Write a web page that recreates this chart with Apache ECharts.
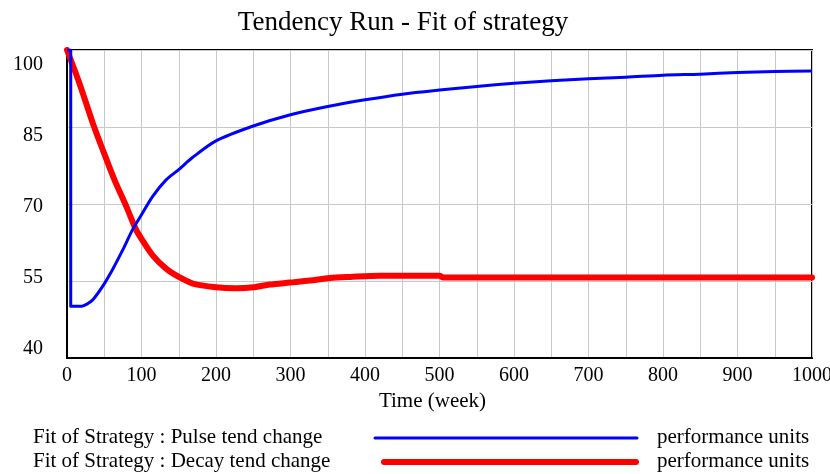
<!DOCTYPE html>
<html>
<head>
<meta charset="utf-8">
<script src="https://cdn.jsdelivr.net/npm/echarts@6/dist/echarts.min.js"></script>
<style>
  html, body { margin: 0; padding: 0; background: #fff; }
  #chart { width: 830px; height: 474px; }
</style>
</head>
<body>
<div id="chart"></div>
<script>
// time in weeks, values in performance units
var pulseTime = [0, 5, 5, 20, 28, 35, 48, 61, 75, 88, 100, 115, 133, 150, 168, 200, 250, 300, 350, 400, 450, 500, 550, 600, 650, 700, 750, 800, 850, 900, 950, 1000];
var pulseValue = [100, 100, 50.1, 50.1, 50.6, 51.4, 54, 57.2, 61.1, 65, 67.9, 71.5, 74.7, 76.7, 79, 82.3, 85.2, 87.4, 89, 90.3, 91.4, 92.2, 92.9, 93.5, 94.0, 94.4, 94.7, 95.1, 95.3, 95.6, 95.8, 95.9];

var decayTime = [0, 17, 35, 50, 64, 80, 92, 100, 115, 133, 150, 169, 200, 227, 251, 272, 299, 326, 353, 380, 420, 450, 500, 505, 600, 700, 800, 900, 1000];
var decayValue = [100, 93.4, 85.6, 79.8, 74.6, 69.4, 65.2, 63.2, 60.0, 57.4, 55.8, 54.5, 53.8, 53.6, 53.8, 54.3, 54.7, 55.1, 55.6, 55.8, 56.0, 56.0, 56.0, 55.7, 55.7, 55.7, 55.7, 55.7, 55.7];

var yTicks = [40, 55, 70, 85, 100];
var xTicks = [0, 100, 200, 300, 400, 500, 600, 700, 800, 900, 1000];

var pulseName = 'Fit of Strategy : Pulse tend change';
var decayName = 'Fit of Strategy : Decay tend change';
var unitName = 'performance units';

function zip(xs, ys) {
    var out = [];
    for (var i = 0; i < xs.length; i++) out.push([xs[i], ys[i]]);
    return out;
}

var font = 'Liberation Serif';
var legendFont = '21px "Liberation Serif"';
var myChart = echarts.init(document.getElementById('chart'));

var option = {
    animation: false,
    title: {
        text: 'Tendency Run - Fit of strategy',
        left: 398,
        textAlign: 'center',
        top: 4,
        textStyle: { fontFamily: font, fontSize: 27, fontWeight: 'normal', color: '#000' }
    },
    grid: {
        left: 67, right: 18, top: 50, bottom: 116,
        outerBoundsMode: 'none',
        containLabel: false,
        show: true, borderColor: '#000', borderWidth: 2
    },
    xAxis: {
        type: 'value',
        min: xTicks[0],
        max: xTicks[xTicks.length - 1],
        interval: 100,
        name: 'Time (week)',
        nameLocation: 'middle',
        nameGap: 28,
        nameTextStyle: { fontFamily: font, fontSize: 21, color: '#000', padding: [0, 14, 0, 0] },
        axisLine: { show: true, lineStyle: { color: '#000', width: 2 } },
        axisTick: { show: false },
        axisLabel: {
            fontFamily: font, fontSize: 20, color: '#000', margin: 8,
            formatter: function (v) { return String(v); }
        },
        splitLine: { show: true, lineStyle: { color: '#c8c8c8', width: 1 } },
        minorTick: { show: false, splitNumber: 2 },
        minorSplitLine: { show: true, lineStyle: { color: '#c8c8c8', width: 1 } }
    },
    yAxis: {
        type: 'value',
        min: yTicks[0],
        max: yTicks[yTicks.length - 1],
        interval: 15,
        axisLine: { show: true, lineStyle: { color: '#000', width: 2 } },
        axisTick: { show: false },
        axisLabel: {
            fontFamily: font, fontSize: 20, color: '#000', margin: 24,
            formatter: function (v) {
                var k = yTicks.indexOf(v);
                return '{s' + k + '|' + v + '}';
            },
            rich: {
                s0: { fontFamily: font, fontSize: 20, padding: [0, 0, 18, 0] },
                s1: { fontFamily: font, fontSize: 20, padding: [0, 0, 6, 0] },
                s2: { fontFamily: font, fontSize: 20, padding: [6, 0, 0, 0] },
                s3: { fontFamily: font, fontSize: 20, padding: [18, 0, 0, 0] },
                s4: { fontFamily: font, fontSize: 20, padding: [30, 0, 0, 0] }
            }
        },
        splitLine: { show: true, lineStyle: { color: '#c8c8c8', width: 1 } }
    },
    series: [{
        name: decayName,
        type: 'line',
        data: zip(decayTime, decayValue),
        showSymbol: false,
        smooth: 0.3,
        lineStyle: { color: '#ff0000', width: 6, cap: 'round', join: 'round' },
        z: 2
    }, {
        name: pulseName,
        type: 'line',
        data: zip(pulseTime, pulseValue),
        showSymbol: false,
        smooth: 0.3,
        lineStyle: { color: '#0000ff', width: 3, join: 'round' },
        z: 3
    }],
    graphic: [
        { type: 'text', left: 33, top: 427, style: { text: pulseName, font: legendFont, fill: '#000' } },
        { type: 'text', left: 33, top: 451, style: { text: decayName, font: legendFont, fill: '#000' } },
        { type: 'line', shape: { x1: 375, y1: 438, x2: 637, y2: 438 }, style: { stroke: '#0000ff', lineWidth: 3, lineCap: 'round' } },
        { type: 'line', shape: { x1: 384, y1: 462, x2: 636, y2: 462 }, style: { stroke: '#ff0000', lineWidth: 6, lineCap: 'round' } },
        { type: 'text', left: 657, top: 427, style: { text: unitName, font: legendFont, fill: '#000' } },
        { type: 'text', left: 657, top: 451, style: { text: unitName, font: legendFont, fill: '#000' } }
    ]
};

myChart.setOption(option);
</script>
</body>
</html>
